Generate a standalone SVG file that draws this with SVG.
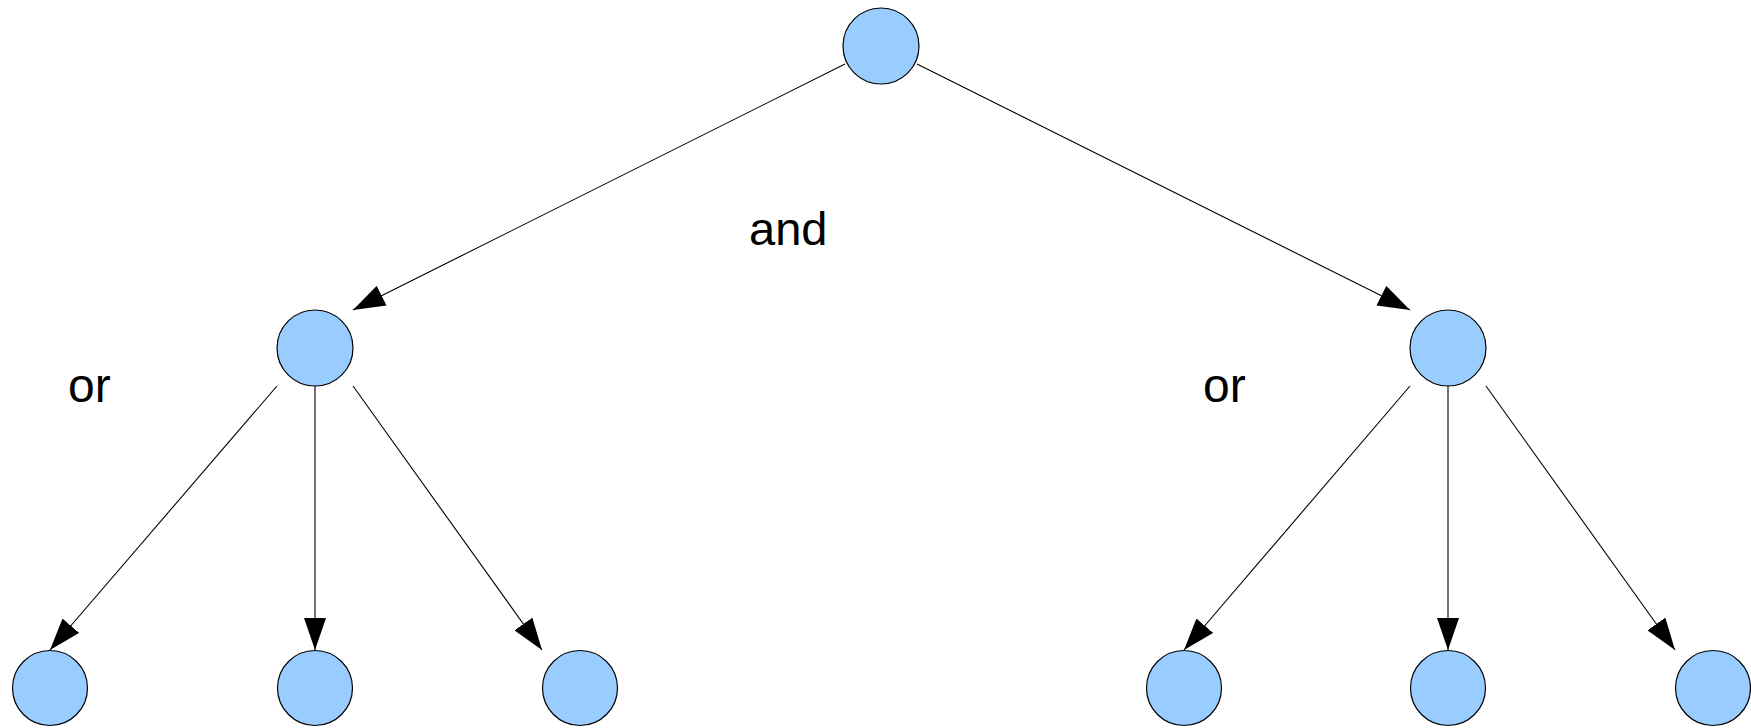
<svg xmlns="http://www.w3.org/2000/svg" width="1751" height="728" viewBox="0 0 1751 728">
<style>
.node{fill:#99ccff;stroke:#000;stroke-width:1.2}
.edge{stroke:#000;stroke-width:1.1;fill:none;marker-end:url(#arr)}
.lbl{font-family:"Liberation Sans",Arial,sans-serif;fill:#000}
</style>
<defs>
<marker id="arr" viewBox="0 0 32 22" refX="32" refY="11" markerWidth="32" markerHeight="22" markerUnits="userSpaceOnUse" orient="auto">
<path d="M0,0 L32,11 L0,22 z" fill="#000"/>
</marker>
</defs>
<rect width="1751" height="728" fill="#fff"/>
<g id="connectors">
<line class="edge" x1="845" y1="64" x2="353" y2="310"/>
<line class="edge" x1="917" y1="64" x2="1410" y2="310"/>
<line class="edge" x1="277" y1="386" x2="50" y2="650"/>
<line class="edge" x1="315" y1="386" x2="315" y2="650"/>
<line class="edge" x1="353" y1="386" x2="542" y2="650"/>
<line class="edge" x1="1410" y1="386" x2="1184" y2="650"/>
<line class="edge" x1="1448" y1="386" x2="1448" y2="650"/>
<line class="edge" x1="1486" y1="386" x2="1675" y2="650"/>
</g>
<g id="root"><circle class="node" cx="881" cy="46" r="38"/></g>
<g id="mid-left"><circle class="node" cx="315" cy="348" r="38"/></g>
<g id="mid-right"><circle class="node" cx="1448" cy="348" r="38"/></g>
<g id="leaf-1"><circle class="node" cx="50" cy="688" r="37.5"/></g>
<g id="leaf-2"><circle class="node" cx="315" cy="688" r="37.5"/></g>
<g id="leaf-3"><circle class="node" cx="580" cy="688" r="37.5"/></g>
<g id="leaf-4"><circle class="node" cx="1184" cy="688" r="37.5"/></g>
<g id="leaf-5"><circle class="node" cx="1448" cy="688" r="37.5"/></g>
<g id="leaf-6"><circle class="node" cx="1713" cy="688" r="37.5"/></g>
<g id="labels">
<text class="lbl" x="749" y="245" font-size="47">and</text>
<text class="lbl" x="68" y="402" font-size="48">or</text>
<text class="lbl" x="1203" y="402" font-size="48">or</text>
</g>
</svg>
